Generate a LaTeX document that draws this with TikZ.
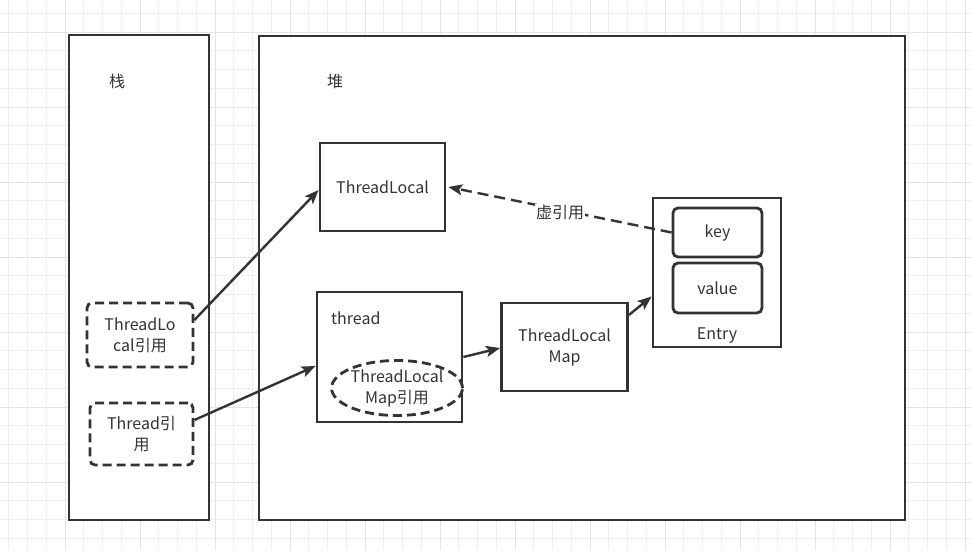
\documentclass[tikz,border=0pt]{standalone}
\usepackage{fontspec}
\setmainfont{Noto Sans CJK SC}
\usetikzlibrary{arrows.meta,shapes.geometric}
\definecolor{ink}{HTML}{333333}
\definecolor{gridminor}{HTML}{EFEFEF}
\definecolor{gridmajor}{HTML}{E4E4E4}
\tikzset{
  box/.style={draw=ink,line width=2.8pt,fill=white,text=ink,inner sep=2pt,font=\fontsize{16}{21}\selectfont,align=center},
  rbox/.style={box,rounded corners=5pt},
  dbox/.style={rbox,dash pattern=on 9pt off 5pt},
  link/.style={draw=ink,line width=2.4pt,-{Stealth[length=14pt,width=11pt,inset=3pt]}},
  lbl/.style={text=ink,font=\fontsize{16}{21}\selectfont,inner sep=1pt}
}
\begin{document}
\begin{tikzpicture}[x=1pt,y=-1pt]
\useasboundingbox (0,0) rectangle (972,550);
\fill[white] (0,0) rectangle (972,550);
% grid
\foreach \i in {0,...,51}{
  \draw[gridminor,line width=1pt] ({8.75+18.75*\i},0) -- ({8.75+18.75*\i},550);
}
\foreach \j in {0,...,29}{
  \draw[gridminor,line width=1pt] (0,{13.25+18.75*\j}) -- (972,{13.25+18.75*\j});
}
\foreach \i in {0,...,12}{
  \draw[gridmajor,line width=1pt] ({65+75*\i},0) -- ({65+75*\i},550);
}
\foreach \j in {0,...,7}{
  \draw[gridmajor,line width=1pt] (0,{32+75*\j}) -- (972,{32+75*\j});
}
% containers
\node[box,minimum width=140pt,minimum height=485pt] (stack) at (139,277.5) {};
\node[box,minimum width=646pt,minimum height=484pt] (heap) at (582,278) {};
\node[lbl] (stacklbl) at (117,81) {栈};
\node[lbl] (heaplbl) at (335,81) {堆};
% heap objects
\node[box,minimum width=125pt,minimum height=88pt] (tl) at (382.5,187) {ThreadLocal};
\node[box,minimum width=145pt,minimum height=130pt] (thread) at (389.5,357) {};
\node[lbl,anchor=west] (threadlbl) at (330,318) {thread};
\node[box,ellipse,dash pattern=on 9pt off 5pt,minimum width=130pt,minimum height=55pt,inner sep=0pt] (ell) at (397,388) {ThreadLocal\\Map引用};
\node[box,minimum width=126pt,minimum height=88pt] (tlm) at (564.5,347) {ThreadLocal\\Map};
\node[box,minimum width=128pt,minimum height=149pt] (entry) at (717,272.5) {};
\node[rbox,minimum width=89pt,minimum height=49pt] (key) at (717.5,232.5) {key};
\node[rbox,minimum width=89pt,minimum height=50pt] (value) at (717.5,288) {value};
\node[lbl] (entrylbl) at (717,335) {Entry};
% stack refs
\node[dbox,minimum width=106pt,minimum height=64pt] (tlref) at (140,335) {ThreadLo\\cal引用};
\node[dbox,minimum width=103pt,minimum height=62pt] (tref) at (141.5,434) {Thread引\\用};
% connectors
\draw[link] ([yshift=15pt]tlref.east) -- ([yshift=-3pt]tl.west);
\draw[link] ([yshift=14pt]tref.east) -- ([yshift=-9pt]thread.west);
\draw[link] ([yshift=0pt]thread.east) -- ([yshift=-1pt]tlm.west);
\draw[link] ([yshift=32pt]tlm.east) -- ([yshift=-24pt]entry.west);
\draw[link,dash pattern=on 11pt off 6pt] (key.west) -- node[lbl,fill=white,pos=0.5,yshift=-3pt] (virt) {虚引用} ([xshift=2pt]tl.east);
\end{tikzpicture}
\end{document}
